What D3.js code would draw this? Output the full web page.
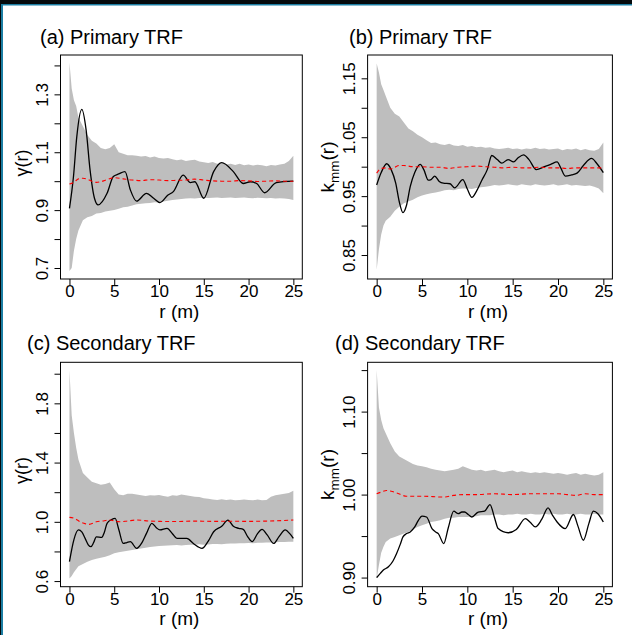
<!DOCTYPE html>
<html><head><meta charset="utf-8">
<script src="https://cdn.jsdelivr.net/npm/d3@7"></script>
<style>
body{margin:0;background:#fff;}
svg{display:block;}
text{font-family:"Liberation Sans",Arial,Helvetica,sans-serif;fill:#000;}
</style>
</head><body>
<svg id="chart" width="632" height="635"></svg>
<script>
// ---------- shared x values ----------
const rEnv = [0,0.25,0.5,0.75,1,1.5,2,2.5,3,3.5,
  4,4.5,5,5.5,6,6.5,7,7.5,8,8.5,
  9,9.5,10,10.5,11,11.5,12,12.5,13,13.5,
  14,14.5,15,15.5,16,16.5,17,17.5,18,18.5,
  19,19.5,20,20.5,21,21.5,22,22.5,23,23.5,
  24,24.5,25];
const xTicks = [0,5,10,15,20,25];
const xDomain = [-1,26];

// ---------- panel (a) ----------
const upA = [1.41,1.32,1.28,1.26,1.22,1.19,1.16,1.14,1.13,1.115,
  1.11,1.115,1.128,1.10,1.095,1.09,1.09,1.088,1.085,1.087,
  1.082,1.085,1.08,1.078,1.08,1.076,1.072,1.075,1.07,1.072,
  1.074,1.068,1.065,1.063,1.066,1.06,1.062,1.058,1.06,1.056,
  1.06,1.055,1.058,1.054,1.057,1.055,1.052,1.056,1.054,1.058,
  1.06,1.07,1.088];
const loA = [0.69,0.70,0.76,0.80,0.83,0.865,0.875,0.88,0.888,0.89,
  0.895,0.898,0.9,0.905,0.91,0.912,0.916,0.92,0.922,0.924,
  0.925,0.927,0.926,0.93,0.932,0.935,0.937,0.938,0.94,0.941,
  0.94,0.942,0.943,0.942,0.943,0.944,0.942,0.943,0.944,0.942,
  0.943,0.944,0.942,0.941,0.943,0.942,0.941,0.942,0.94,0.941,
  0.94,0.938,0.935];
const obsRA = [0,0.45,0.82,1.38,1.86,2.3,2.8,3.2,4.2,4.9,5.5,6.2,6.8,7.5,8.6,9.4,10.1,11,11.6,12.7,13.5,14,15,16.1,17,18.3,19.4,20.2,20.9,21.8,23.1,25];
const obsVA = [0.906,1.016,1.154,1.248,1.177,1.039,0.94,0.918,0.958,1.016,1.025,1.033,0.97,0.931,0.958,0.941,0.926,0.952,0.964,1.021,0.995,0.998,0.941,1.033,1.064,1.033,0.992,0.998,0.992,0.96,0.995,1.0];
const thRA = [0,0.5,1,1.5,2,2.5,3,3.5,4,5,6,7,8,9,10,11,12,13,14,15,16,17,18,19,20,21,22,23,24,25];
const thVA = [0.99,0.996,1.008,1.01,1.007,1.0,0.996,0.998,1.003,1.012,1.008,1.004,1.002,1.005,1.004,1.002,1.003,1.004,1.007,1.004,1.001,1.0,1.0,1.002,1.001,0.999,1.0,1.001,1.0,1.0];
const yDomA = [0.662,1.436];
const yTicksA = [0.7,0.8,0.9,1.0,1.1,1.2,1.3,1.4];
const yLabelsA = ["0.7","","0.9","","1.1","","1.3",""];

// ---------- panel (b) ----------
const upB = [1.175,1.16,1.14,1.13,1.12,1.10,1.09,1.085,1.075,1.065,
  1.06,1.054,1.05,1.045,1.04,1.041,1.038,1.037,1.039,1.036,
  1.035,1.037,1.034,1.035,1.033,1.034,1.032,1.033,1.031,1.03,
  1.031,1.032,1.03,1.031,1.029,1.031,1.03,1.032,1.03,1.031,
  1.029,1.03,1.031,1.028,1.03,1.029,1.031,1.028,1.03,1.028,
  1.027,1.03,1.041];
const loB = [0.825,0.86,0.885,0.9,0.908,0.915,0.925,0.932,0.938,0.941,
  0.944,0.948,0.951,0.953,0.955,0.956,0.958,0.96,0.961,0.96,
  0.962,0.963,0.963,0.962,0.964,0.965,0.966,0.967,0.969,0.968,
  0.969,0.97,0.969,0.968,0.97,0.969,0.968,0.97,0.969,0.968,
  0.969,0.97,0.968,0.969,0.97,0.968,0.969,0.968,0.967,0.968,
  0.966,0.963,0.955];
const obsRB = [0,0.5,1.1,1.6,2.1,2.5,2.9,3.3,3.7,4.2,4.8,5.2,5.7,6.0,6.4,6.9,7.35,8.1,8.6,9.5,10.0,10.5,11.0,11.6,12.2,12.7,13.3,13.8,14.5,15.1,15.6,16.2,16.8,17.6,18.5,19.2,19.9,20.3,20.8,21.5,22.1,22.8,23.7,24.3,25];
const obsVB = [0.969,0.99,1.005,0.995,0.972,0.94,0.922,0.935,0.966,0.99,1.004,0.995,0.977,0.978,0.984,0.975,0.972,0.971,0.964,0.978,0.962,0.948,0.958,0.977,0.995,1.019,1.012,1.006,1.012,1.008,1.015,1.02,1.012,0.995,1.0,1.004,1.008,0.998,0.984,0.986,0.989,1.002,1.014,1.005,0.99];
const thRB = [0,0.5,1,1.5,2,2.5,3,4,5,6,7,8,9,10,11,12,13,14,15,16,17,18,19,20,21,22,23,24,25];
const thVB = [0.989,0.997,0.998,0.996,0.999,1.002,1.002,1.0,1.0,0.999,0.999,0.997,0.999,1.0,1.001,1.0,0.999,0.998,0.999,0.998,0.998,0.999,0.998,0.998,0.997,0.998,0.998,0.998,0.998];
const yDomB = [0.8093,1.1896];
const yTicksB = [0.85,0.90,0.95,1.00,1.05,1.10,1.15];
const yLabelsB = ["0.85","","0.95","","1.05","","1.15"];

// ---------- panel (c) ----------
const upC = [2.025,1.72,1.6,1.5,1.42,1.33,1.30,1.27,1.26,1.25,
  1.255,1.265,1.22,1.185,1.18,1.19,1.19,1.185,1.18,1.175,
  1.18,1.178,1.181,1.175,1.17,1.18,1.176,1.185,1.18,1.175,
  1.17,1.168,1.16,1.155,1.15,1.148,1.152,1.147,1.15,1.145,
  1.147,1.15,1.148,1.145,1.15,1.146,1.148,1.17,1.18,1.185,
  1.19,1.195,1.21];
const loC = [0.618,0.635,0.66,0.68,0.70,0.715,0.73,0.742,0.75,0.758,
  0.765,0.775,0.787,0.795,0.8,0.805,0.81,0.815,0.82,0.825,
  0.83,0.833,0.836,0.838,0.84,0.842,0.843,0.84,0.843,0.845,
  0.846,0.848,0.845,0.847,0.85,0.851,0.849,0.852,0.854,0.853,
  0.855,0.856,0.857,0.855,0.858,0.859,0.86,0.861,0.862,0.863,
  0.864,0.865,0.866];
const obsRC = [0,0.5,1.0,1.4,1.75,2.1,2.4,2.7,3.0,3.6,3.9,4.2,4.7,5.1,5.5,6.0,6.4,6.8,7.5,8.1,8.6,9.2,9.7,10.1,10.9,11.5,12.0,13.1,13.9,14.8,15.5,16.1,17.0,17.7,18.3,18.9,19.4,19.9,20.4,21.0,21.5,22.1,22.8,23.4,24.1,24.6,25];
const obsVC = [0.731,0.88,0.945,0.93,0.888,0.845,0.832,0.86,0.899,0.895,0.93,0.99,1.015,1.023,0.95,0.854,0.86,0.866,0.821,0.86,0.922,0.99,0.96,0.945,0.956,0.92,0.888,0.888,0.85,0.821,0.87,0.933,0.97,1.012,0.97,0.956,0.949,0.9,0.866,0.92,0.949,0.91,0.854,0.9,0.945,0.92,0.888];
const thRC = [0,0.6,1.2,1.6,2.2,3,3.8,4.5,5.6,6.5,7.5,9,10,12,14,16,18,20,22,25];
const thVC = [1.03,1.022,1.0,0.99,0.983,1.0,1.006,1.012,1.0,1.006,1.012,1.005,1.003,1.002,1.005,1.003,1.004,1.003,1.005,1.012];
const yDomC = [0.562,2.077];
const yTicksC = [0.6,0.8,1.0,1.2,1.4,1.6,1.8,2.0];
const yLabelsC = ["0.6","","1.0","","1.4","","1.8",""];

// ---------- panel (d) ----------
const upD = [1.15,1.105,1.09,1.08,1.074,1.062,1.052,1.046,1.043,1.04,
  1.037,1.035,1.034,1.033,1.031,1.03,1.029,1.028,1.029,1.03,
  1.031,1.034,1.032,1.03,1.029,1.03,1.028,1.029,1.03,1.028,
  1.027,1.028,1.029,1.027,1.028,1.027,1.026,1.027,1.026,1.027,
  1.026,1.025,1.026,1.025,1.024,1.025,1.026,1.024,1.025,1.024,
  1.023,1.024,1.027];
const loD = [0.899,0.915,0.93,0.937,0.943,0.947,0.949,0.951,0.953,0.955,
  0.958,0.961,0.963,0.965,0.967,0.968,0.969,0.971,0.972,0.972,
  0.973,0.973,0.973,0.974,0.974,0.975,0.975,0.975,0.976,0.976,
  0.975,0.976,0.976,0.977,0.976,0.976,0.977,0.976,0.976,0.977,
  0.976,0.977,0.976,0.976,0.977,0.976,0.976,0.977,0.976,0.976,
  0.977,0.976,0.976];
const obsRD = [0,0.4,0.74,1.3,1.8,2.2,2.6,2.9,3.3,3.7,4.2,4.6,5.0,5.5,6.1,6.5,6.8,7.4,7.9,8.5,9.0,9.4,9.7,10.1,10.5,11.2,11.9,12.5,13.0,13.4,14.5,15.4,16.4,16.9,17.5,18.2,18.9,19.4,19.9,20.8,21.7,22.2,22.8,23.4,23.9,24.4,25];
const obsVD = [0.90,0.905,0.909,0.913,0.92,0.929,0.94,0.949,0.953,0.955,0.961,0.969,0.974,0.973,0.959,0.955,0.953,0.941,0.96,0.98,0.977,0.979,0.979,0.976,0.973,0.979,0.98,0.988,0.972,0.959,0.954,0.958,0.971,0.967,0.961,0.97,0.984,0.975,0.967,0.959,0.976,0.962,0.945,0.965,0.98,0.977,0.967];
const thRD = [0,0.5,1.1,1.6,2.2,3.3,5,7.35,8.5,9.6,11,13,15,17,19,20,21,22,23,24,25];
const thVD = [1.001,1.003,1.005,1.004,1.002,0.998,0.998,0.997,0.999,1.0,1.0,1.001,1.0,1.001,1.001,1.001,1.0,0.999,1.001,1.0,1.0];
const yDomD = [0.889,1.1594];
const yTicksD = [0.90,0.95,1.00,1.05,1.10,1.15];
const yLabelsD = ["0.90","","1.00","","1.10",""];

const titles = ["(a) Primary TRF","(b) Primary TRF","(c) Secondary TRF","(d) Secondary TRF"];
const yTitleKinds = ["gamma","kmm","gamma","kmm"];
const xTitle = "r (m)";

// ---------- drawing ----------
const svg = d3.select("#chart");
svg.append("rect").attr("x",0).attr("y",0).attr("width",632).attr("height",635).attr("fill","#fff");

const panels = [
  {title:titles[0], yk:yTitleKinds[0], box:[60.5,55,302.3,279], tp:[40,44], yDom:yDomA, yT:yTicksA, yL:yLabelsA, up:upA, lo:loA, oR:obsRA, oV:obsVA, tR:thRA, tV:thVA},
  {title:titles[1], yk:yTitleKinds[1], box:[367.6,55,612.4,279], tp:[349,44], yDom:yDomB, yT:yTicksB, yL:yLabelsB, up:upB, lo:loB, oR:obsRB, oV:obsVB, tR:thRB, tV:thVB},
  {title:titles[2], yk:yTitleKinds[2], box:[60.5,362.3,302.3,586.7], tp:[27,349.5], yDom:yDomC, yT:yTicksC, yL:yLabelsC, up:upC, lo:loC, oR:obsRC, oV:obsVC, tR:thRC, tV:thVC},
  {title:titles[3], yk:yTitleKinds[3], box:[367.6,362.3,612.4,586.7], tp:[335,349.5], yDom:yDomD, yT:yTicksD, yL:yLabelsD, up:upD, lo:loD, oR:obsRD, oV:obsVD, tR:thRD, tV:thVD}
];

const FONT = '"Liberation Sans",Arial,sans-serif';

panels.forEach(p => {
  const [L,T,R,B] = p.box;
  const x = d3.scaleLinear().domain(xDomain).range([L,R]);
  const y = d3.scaleLinear().domain(p.yDom).range([B,T]);
  const g = svg.append("g");

  // envelope
  const env = rEnv.map((r,i)=>({r, hi:p.up[i], lo:p.lo[i]}));
  g.append("path").datum(env)
    .attr("fill","#bebebe").attr("stroke","none")
    .attr("d", d3.area().x(d=>x(d.r)).y0(d=>y(d.lo)).y1(d=>y(d.hi)));

  // observed
  const obs = p.oR.map((r,i)=>({r, v:p.oV[i]}));
  g.append("path").datum(obs)
    .attr("fill","none").attr("stroke","#000").attr("stroke-width",1.3)
    .attr("d", d3.line().curve(d3.curveMonotoneX).x(d=>x(d.r)).y(d=>y(d.v)));

  // theoretical (red dashed)
  const th = p.tR.map((r,i)=>({r, v:p.tV[i]}));
  g.append("path").datum(th)
    .attr("fill","none").attr("stroke","#ff0000").attr("stroke-width",1.1)
    .attr("stroke-dasharray","4,3")
    .attr("d", d3.line().curve(d3.curveMonotoneX).x(d=>x(d.r)).y(d=>y(d.v)));

  // box
  g.append("rect").attr("x",L).attr("y",T).attr("width",R-L).attr("height",B-T)
    .attr("fill","none").attr("stroke","#000").attr("stroke-width",1);

  // x axis
  const xa = g.append("g").attr("transform",`translate(0,${B})`)
    .call(d3.axisBottom(x).tickValues(xTicks).tickSize(6).tickSizeOuter(0).tickFormat(d3.format("d")));
  xa.select(".domain").remove();
  xa.selectAll(".tick line").attr("stroke","#000");
  xa.selectAll(".tick text").attr("y",18).attr("dy",0)
    .style("font-size","17px").style("font-family",FONT).attr("fill","#000");

  // y axis
  const ya = g.append("g").attr("transform",`translate(${L},0)`)
    .call(d3.axisLeft(y).tickValues(p.yT).tickSize(6).tickSizeOuter(0).tickFormat((d,i)=>p.yL[i]));
  ya.select(".domain").remove();
  ya.selectAll(".tick line").attr("stroke","#000");
  ya.selectAll(".tick text").attr("x",0).attr("y",0).attr("dy",0)
    .attr("text-anchor","middle").attr("transform","translate(-12.8,0) rotate(-90)")
    .style("font-size","17px").style("font-family",FONT).attr("fill","#000");

  // x title
  g.append("text").attr("x",(x(0)+x(25))/2 - 2).attr("y",B+38.5).attr("text-anchor","middle")
    .style("font-size","19px").text(xTitle);

  // y title
  const cy = (T+B)/2;
  if (p.yk === "gamma") {
    g.append("text").attr("text-anchor","middle")
      .attr("transform",`translate(${L-32.5},${cy - 4}) rotate(-90)`).style("font-size","18px")
      .text("\u03B3(r)");
  } else {
    const yt = g.append("text").attr("text-anchor","middle")
      .attr("transform",`translate(${L-33.5},${cy}) rotate(-90)`).style("font-size","19px");
    yt.append("tspan").text("k");
    yt.append("tspan").attr("dy",5).style("font-size","13.5px").text("mm");
    yt.append("tspan").attr("dy",-5).text("(r)");
  }

  // panel title
  g.append("text").attr("x",p.tp[0]).attr("y",p.tp[1]).style("font-size","20px").text(p.title);
});

// dark frame at top and left edge
svg.append("rect").attr("x",0).attr("y",0).attr("width",632).attr("height",4).attr("fill","#050a0c");
svg.append("rect").attr("x",0).attr("y",4).attr("width",632).attr("height",1.5).attr("fill","#1c7ea3");
svg.append("rect").attr("x",0).attr("y",0).attr("width",1).attr("height",635).attr("fill","#050a0c");
svg.append("rect").attr("x",1).attr("y",4).attr("width",2).attr("height",631).attr("fill","#1c7ea3");
</script>
</body></html>
